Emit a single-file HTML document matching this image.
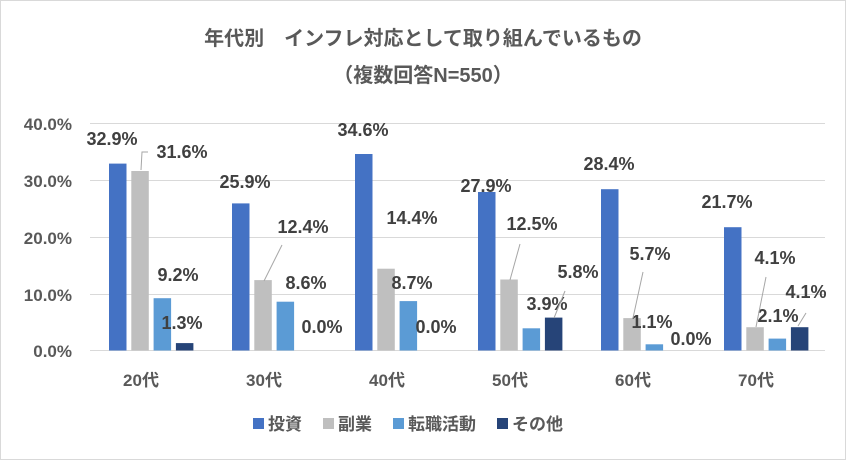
<!DOCTYPE html>
<html><head><meta charset="utf-8"><style>
html,body{margin:0;padding:0;background:#fff}
svg{display:block;font-family:"Liberation Sans","Noto Sans CJK JP",sans-serif}
</style></head><body>
<svg width="846" height="460" viewBox="0 0 846 460">
<rect x="0.5" y="0.5" width="845" height="459" fill="#fff" stroke="#d9d9d9"/>
<text x="423" y="45" text-anchor="middle" font-size="20" font-weight="bold" fill="#595959">年代別　インフレ対応として取り組んでいるもの</text>
<text x="423" y="82" text-anchor="middle" font-size="20" font-weight="bold" fill="#595959">（複数回答N=550）</text>
<g stroke="#d9d9d9" stroke-width="1">
<line x1="90" y1="123.5" x2="825" y2="123.5"/><line x1="90" y1="180.5" x2="825" y2="180.5"/>
<line x1="90" y1="237.5" x2="825" y2="237.5"/><line x1="90" y1="294.5" x2="825" y2="294.5"/>
<line x1="90" y1="350.5" x2="825" y2="350.5"/></g>
<g font-size="17" font-weight="bold" fill="#595959" text-anchor="end">
<text x="72" y="130">40.0%</text><text x="72" y="187">30.0%</text><text x="72" y="244">20.0%</text><text x="72" y="301">10.0%</text><text x="72" y="357">0.0%</text></g>
<g>
<rect x="109" y="163.6" width="17.5" height="186.9" fill="#4472c4"/>
<rect x="131.3" y="171" width="17.5" height="179.5" fill="#bfbfbf"/>
<rect x="153.6" y="298.2" width="17.5" height="52.3" fill="#5b9bd5"/>
<rect x="175.9" y="343.1" width="17.5" height="7.4" fill="#264478"/>
<rect x="232" y="203.4" width="17.5" height="147.1" fill="#4472c4"/>
<rect x="254.3" y="280.1" width="17.5" height="70.4" fill="#bfbfbf"/>
<rect x="276.6" y="301.7" width="17.5" height="48.8" fill="#5b9bd5"/>
<rect x="355" y="154" width="17.5" height="196.5" fill="#4472c4"/>
<rect x="377.3" y="268.7" width="17.5" height="81.8" fill="#bfbfbf"/>
<rect x="399.6" y="301.1" width="17.5" height="49.4" fill="#5b9bd5"/>
<rect x="478" y="192" width="17.5" height="158.5" fill="#4472c4"/>
<rect x="500.3" y="279.5" width="17.5" height="71" fill="#bfbfbf"/>
<rect x="522.6" y="328.3" width="17.5" height="22.2" fill="#5b9bd5"/>
<rect x="544.9" y="317.6" width="17.5" height="32.9" fill="#264478"/>
<rect x="601" y="189.2" width="17.5" height="161.3" fill="#4472c4"/>
<rect x="623.3" y="318.1" width="17.5" height="32.4" fill="#bfbfbf"/>
<rect x="645.6" y="344.3" width="17.5" height="6.2" fill="#5b9bd5"/>
<rect x="724" y="227.2" width="17.5" height="123.3" fill="#4472c4"/>
<rect x="746.3" y="327.2" width="17.5" height="23.3" fill="#bfbfbf"/>
<rect x="768.6" y="338.6" width="17.5" height="11.9" fill="#5b9bd5"/>
<rect x="790.9" y="327.2" width="17.5" height="23.3" fill="#264478"/>
</g>
<g font-size="17" font-weight="bold" fill="#595959" text-anchor="middle">
<text x="141" y="386">20代</text><text x="264" y="386">30代</text><text x="387" y="386">40代</text><text x="510" y="386">50代</text><text x="633" y="386">60代</text><text x="756" y="386">70代</text>
</g>
<g font-size="18" font-weight="bold" fill="#404040" text-anchor="middle">
<text x="112" y="145">32.9%</text><text x="182" y="158">31.6%</text><text x="178" y="281">9.2%</text><text x="182" y="329">1.3%</text>
<text x="245" y="188">25.9%</text><text x="303" y="233">12.4%</text><text x="306" y="289">8.6%</text><text x="322" y="333">0.0%</text>
<text x="363" y="136">34.6%</text><text x="412" y="224">14.4%</text><text x="412" y="289">8.7%</text><text x="436" y="333">0.0%</text>
<text x="486" y="192">27.9%</text><text x="532" y="230">12.5%</text><text x="547" y="310">3.9%</text><text x="578" y="278">5.8%</text>
<text x="609" y="170">28.4%</text><text x="650" y="260">5.7%</text><text x="652" y="328">1.1%</text><text x="691" y="345">0.0%</text>
<text x="727" y="208">21.7%</text><text x="775" y="264">4.1%</text><text x="778" y="322">2.1%</text><text x="806" y="298">4.1%</text>
</g>
<g stroke="#a6a6a6" stroke-width="1" fill="none">
<polyline points="141,170 142,152 148,152"/>
<line x1="264" y1="281" x2="282" y2="245"/>
<line x1="510" y1="280" x2="520" y2="244"/>
<line x1="554" y1="318" x2="565" y2="291"/>
<line x1="633" y1="318" x2="643" y2="272"/>
<line x1="756" y1="327" x2="766" y2="277"/>
<line x1="798" y1="326" x2="806" y2="313"/>
</g>
<g font-size="17" font-weight="bold" fill="#595959">
<rect x="253" y="418" width="11" height="11" fill="#4472c4"/><text x="268" y="430">投資</text>
<rect x="323" y="418" width="11" height="11" fill="#bfbfbf"/><text x="338" y="430">副業</text>
<rect x="393" y="418" width="11" height="11" fill="#5b9bd5"/><text x="408" y="430">転職活動</text>
<rect x="497" y="418" width="11" height="11" fill="#264478"/><text x="512" y="430">その他</text>
</g>
</svg>
</body></html>
